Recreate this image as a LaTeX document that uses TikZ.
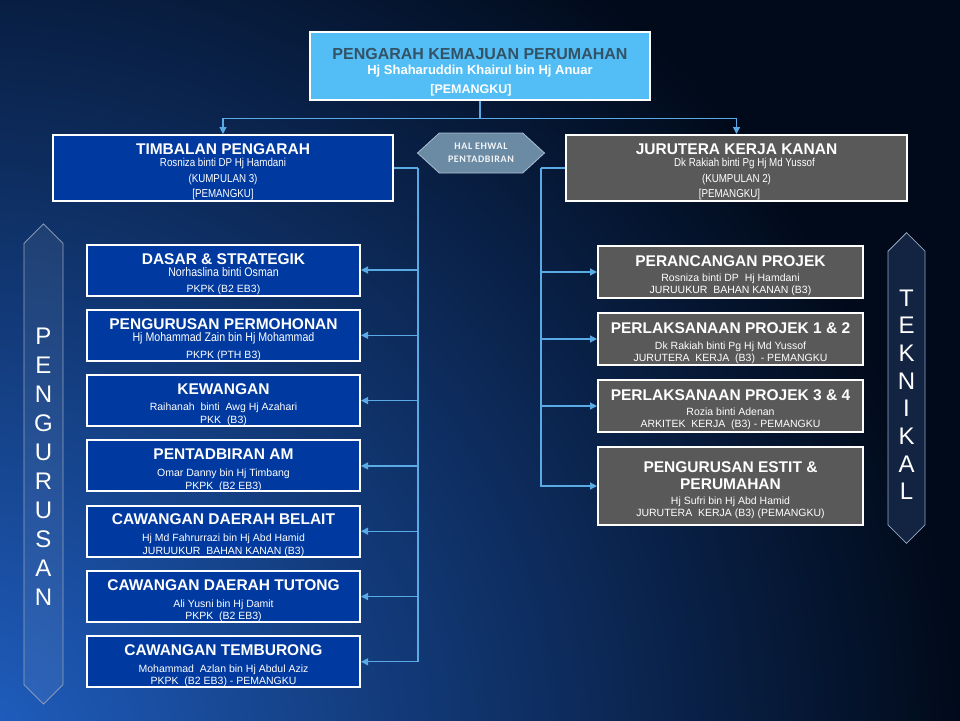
\documentclass[tikz,border=0pt]{standalone}
\usepackage{fontspec}
\setmainfont{Liberation Sans}
\newfontfamily\narrowfont[FakeStretch=0.85]{Liberation Sans}
\newfontfamily\hexfont[LetterSpace=6]{Carlito}
\usetikzlibrary{arrows.meta, positioning, shapes.symbols}

\definecolor{bgnavy}{RGB}{1,10,26}
\definecolor{bgglow}{RGB}{32,96,196}
\definecolor{topblue}{RGB}{82,190,245}
\definecolor{topink}{RGB}{52,82,102}
\definecolor{deepblue}{RGB}{0,58,160}
\definecolor{boxgray}{RGB}{89,89,89}
\definecolor{hexfill}{RGB}{107,138,163}
\definecolor{hexline}{RGB}{170,190,210}
\definecolor{hextext}{RGB}{242,245,248}
\definecolor{bannerline}{RGB}{150,165,190}
\definecolor{bannerfill}{RGB}{18,36,66}
\definecolor{wirecol}{RGB}{90,170,230}

\newcommand{\boxhead}[1]{{\bfseries\fontsize{15.5}{12}\selectfont\rule{0pt}{19pt}#1}}
\newcommand{\boxheadnext}[1]{{\bfseries\fontsize{15.5}{12}\selectfont #1}}
\newcommand{\narrowline}[2]{{\narrowfont\fontsize{#1}{12}\selectfont #2}}

\begin{document}
\begin{tikzpicture}[
  x=1pt, y=-1pt,
  node distance=12.3pt and 20pt,
  >={Triangle[length=7pt, width=7pt]},
  font=\fontsize{10.5}{12}\selectfont,
  unitbox/.style={draw=white, line width=2pt, text=white, align=center, inner sep=0pt},
  topbox/.style={unitbox, line width=2.5pt, fill=topblue, minimum width=340pt, minimum height=68pt, font=\bfseries\fontsize{13}{15}\selectfont},
  headblue/.style={unitbox, fill=deepblue, minimum width=340pt, minimum height=66pt},
  headgray/.style={unitbox, fill=boxgray, minimum width=341pt, minimum height=66pt},
  leftbox/.style={unitbox, fill=deepblue, minimum width=273pt, minimum height=51pt},
  rightbox/.style={unitbox, fill=boxgray, minimum width=265pt, minimum height=52pt},
  hexbox/.style={signal, signal to=east and west, signal pointer angle=85, draw=hexline, fill=hexfill, line width=0.8pt, text=hextext, minimum width=127pt, minimum height=40pt, align=center, inner sep=1pt, font=\hexfont\bfseries\fontsize{10}{12.5}\selectfont},
  banner/.style={signal, signal to=north and south, signal pointer angle=90, draw=bannerline, line width=0.8pt, text=white, text opacity=1, align=center, inner sep=0pt},
  wire/.style={draw=wirecol, line width=1.2pt}
]

% Background
\useasboundingbox (0,0) rectangle (960,720);
\fill[bgnavy] (-10,-10) rectangle (970,730);
\shade[inner color=bgglow, outer color=bgnavy] (-40,760) circle (1000);

% Top of the chart
\node[topbox] (pengarah) at (480,66) {{\fontsize{16}{15}\selectfont\color{topink}\rule{0pt}{23.5pt}PENGARAH KEMAJUAN PERUMAHAN}\\ Hj Shaharuddin Khairul bin Hj Anuar\\[4pt] {\fontsize{12.5}{15}\selectfont [PEMANGKU]\hspace*{18pt}}};

% Second level
\node[headblue] (timbalan) at (223,168) {\boxhead{TIMBALAN PENGARAH}\\ \narrowline{11.5}{Rosniza binti DP Hj Hamdani}\\[4pt] \narrowline{11.5}{(KUMPULAN 3)}\\[3pt] \narrowline{11.5}{[PEMANGKU]}};
\node[headgray] (jurutera) at (736.5,168) {\boxhead{JURUTERA KERJA KANAN}\\ \narrowline{11.5}{\hspace*{16pt}Dk Rakiah binti Pg Hj Md Yussof}\\[4pt] \narrowline{11.5}{(KUMPULAN 2)\hspace*{16pt}}\\[3pt] \narrowline{11.5}{[PEMANGKU]\hspace*{14pt}}};
\node[hexbox] (halehwal) at (481,153) {HAL EHWAL\\PENTADBIRAN};

% Pengurusan column
\node[leftbox] (dasar) at (223.5,270) {\boxhead{DASAR \& STRATEGIK}\\ \narrowline{12.5}{Norhaslina binti Osman}\\[4pt] PKPK (B2 EB3)};
\node[leftbox, below=of dasar] (permohonan) {\boxhead{PENGURUSAN PERMOHONAN}\\ \narrowline{12.5}{Hj Mohammad Zain bin Hj Mohammad}\\[5pt] PKPK (PTH B3)};
\node[leftbox, below=of permohonan] (kewangan) {\boxhead{KEWANGAN}\\[4.5pt] Raihanah~ binti~ Awg Hj Azahari\\[1pt] PKK~ (B3)};
\node[leftbox, below=of kewangan] (pentadbiran) {\boxhead{PENTADBIRAN AM}\\[4.5pt] Omar Danny bin Hj Timbang\\[1pt] PKPK~ (B2 EB3)};
\node[leftbox, below=of pentadbiran] (belait) {\boxhead{CAWANGAN DAERAH BELAIT}\\[4.5pt] Hj Md Fahrurrazi bin Hj Abd Hamid\\[1pt] JURUUKUR~ BAHAN KANAN (B3)};
\node[leftbox, below=of belait] (tutong) {\boxhead{CAWANGAN DAERAH TUTONG}\\[5pt] Ali Yusni bin Hj Damit\\ PKPK~ (B2 EB3)};
\node[leftbox, below=of tutong] (temburong) {\boxhead{CAWANGAN TEMBURONG}\\[5pt] Mohammad~ Azlan bin Hj Abdul Aziz\\ PKPK~ (B2 EB3) - PEMANGKU};

% Teknikal column
\node[rightbox] (perancangan) at (730.5,272) {\boxhead{PERANCANGAN PROJEK}\\[3pt] Rosniza binti DP~ Hj Hamdani\\ JURUUKUR~ BAHAN KANAN (B3)};
\node[rightbox, below=13pt of perancangan] (projeksatu) {\boxhead{PERLAKSANAAN PROJEK 1 \& 2}\\[4pt] Dk Rakiah binti Pg Hj Md Yussof\\ JURUTERA~ KERJA~ (B3)~ - PEMANGKU};
\node[rightbox, below=13pt of projeksatu] (projektiga) {\boxhead{PERLAKSANAAN PROJEK 3 \& 4}\\[3pt] Rozia binti Adenan\\ ARKITEK~ KERJA~ (B3) - PEMANGKU};
\node[rightbox, minimum height=78pt, below=13pt of projektiga] (estit) {\boxhead{PENGURUSAN ESTIT \&}\\[5pt] \boxheadnext{PERUMAHAN}\\[3pt] Hj Sufri bin Hj Abd Hamid\\ JURUTERA~ KERJA (B3) (PEMANGKU)};

% Side banners
\node[banner, fill=white, fill opacity=0.07, minimum width=39pt, minimum height=460pt, font=\fontsize{24}{29}\selectfont] (pengurusan) at (43.5,464) {\rule{0pt}{21pt}P\\E\\N\\G\\U\\R\\U\\S\\A\\N};
\node[banner, fill=bannerfill, minimum width=37pt, minimum height=291pt, font=\fontsize{24}{27.7}\selectfont] (teknikal) at (906.5,388) {\rule{0pt}{30pt}T\\E\\K\\N\\I\\K\\A\\L};

% Connectors
\draw[wire] (pengarah.south) -- ++(0,17) coordinate (split);
\draw[wire, ->] (split) -| (timbalan);
\draw[wire, ->] (split) -| (jurutera);

\draw[wire] (timbalan.east) -- ++(24,0) coordinate (lbus);
\draw[wire, ->] (lbus |- dasar.east) -- (dasar.east);
\draw[wire, ->] (lbus |- permohonan.east) -- (permohonan.east);
\draw[wire, ->] (lbus |- kewangan.east) -- (kewangan.east);
\draw[wire, ->] (lbus |- pentadbiran.east) -- (pentadbiran.east);
\draw[wire, ->] (lbus |- belait.east) -- (belait.east);
\draw[wire, ->] (lbus |- tutong.east) -- (tutong.east);
\draw[wire, ->] (lbus) |- (temburong);

\draw[wire] (jurutera.west) -- ++(-24,0) coordinate (rbus);
\draw[wire, ->] (rbus |- perancangan.west) -- (perancangan.west);
\draw[wire, ->] (rbus |- projeksatu.west) -- (projeksatu.west);
\draw[wire, ->] (rbus |- projektiga.west) -- (projektiga.west);
\draw[wire, ->] (rbus) |- (estit);

\end{tikzpicture}
\end{document}
